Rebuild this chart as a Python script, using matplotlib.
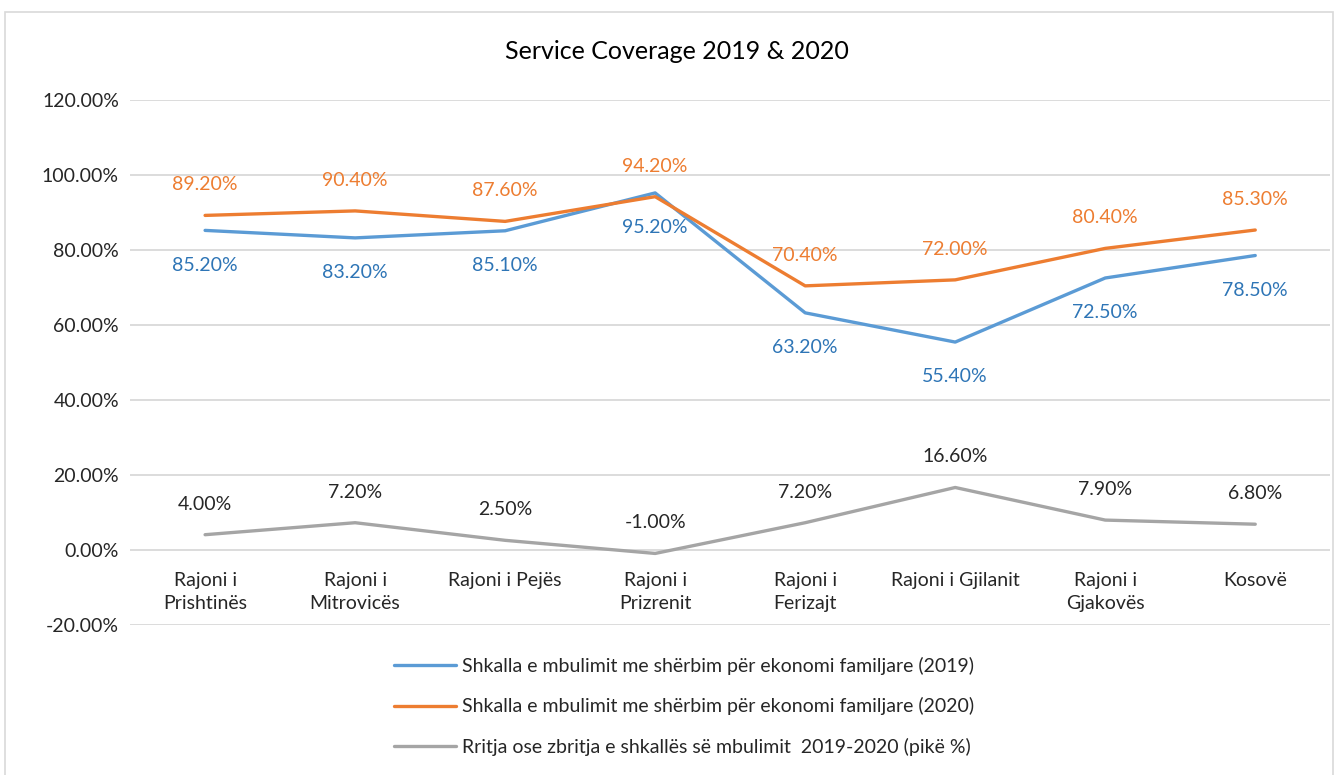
import matplotlib.pyplot as plt
from matplotlib.patches import Rectangle
from matplotlib.ticker import FuncFormatter

plt.rcParams['font.family'] = ['Lato', 'DejaVu Sans']

# data
regions = ['Rajoni i\nPrishtinës', 'Rajoni i\nMitrovicës', 'Rajoni i Pejës', 'Rajoni i\nPrizrenit',
           'Rajoni i\nFerizajt', 'Rajoni i Gjilanit', 'Rajoni i\nGjakovës', 'Kosovë']
cov_2019 = [85.2, 83.2, 85.1, 95.2, 63.2, 55.4, 72.5, 78.5]
cov_2020 = [89.2, 90.4, 87.6, 94.2, 70.4, 72.0, 80.4, 85.3]
change = [4.0, 7.2, 2.5, -1.0, 7.2, 16.6, 7.9, 6.8]

names = ['Shkalla e mbulimit me shërbim për ekonomi familjare (2019)',
         'Shkalla e mbulimit me shërbim për ekonomi familjare (2020)',
         'Rritja ose zbritja e shkallës së mbulimit  2019-2020 (pikë %)']
colors = ['#5B9BD5', '#ED7D31', '#A5A5A5']
label_colors = ['#2E75B6', '#ED7D31', '#262626']

fig = plt.figure(figsize=(13.41, 7.75), dpi=100)
ax = fig.add_axes([0.097, 0.194, 0.895, 0.677])

# category labels hang from the zero line (set first: it resets the ticks)
ax.spines['bottom'].set_position(('data', 0))
for s in ax.spines.values():
    s.set_visible(False)

x = range(len(regions))
series = [cov_2019, cov_2020, change]
offsets = [-25, 22, 22]
for vals, c, lc, name, off in zip(series, colors, label_colors, names, offsets):
    ax.plot(x, vals, color=c, lw=2.4, label=name, solid_capstyle='round')
    for xi, v in zip(x, vals):
        ax.annotate(f'{v:.2f}%', (xi, v), xytext=(0, off), textcoords='offset points',
                    ha='center', va='center', color=lc, fontsize=14)

ax.set_xlim(-0.5, len(regions) - 0.5)
ax.set_ylim(-20, 120)
ax.set_yticks(range(-20, 121, 20))
ax.yaxis.set_major_formatter(FuncFormatter(lambda v, p: f'{v:.2f}%'))
ax.set_xticks(list(x))
ax.set_xticklabels(regions, fontsize=14, color='#262626', linespacing=1.45)
ax.tick_params(axis='y', labelsize=14, colors='#262626', length=0, pad=8)
ax.tick_params(axis='x', length=0, pad=16)
ax.grid(axis='y', color='#D9D9D9', lw=1.3)
ax.set_axisbelow(True)

fig.text(0.505, 0.933, 'Service Coverage 2019 & 2020', ha='center', va='center',
         fontsize=18, color='#000000')

ax.legend(loc='upper left', bbox_to_anchor=(0.205, -0.028), frameon=False, fontsize=14,
          handlelength=3.2, labelspacing=1.15, handletextpad=0.3, labelcolor='#262626')

fig.patches.append(Rectangle((0.004, -0.02), 0.99, 1.005, transform=fig.transFigure,
                             fill=False, edgecolor='#D9D9D9', lw=1.2))

fig.savefig('out.png', dpi=100)
